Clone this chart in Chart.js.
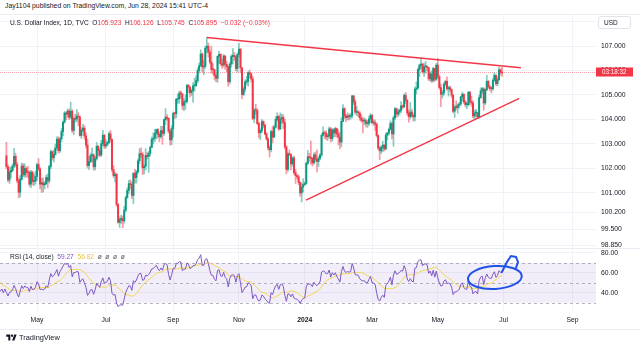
<!DOCTYPE html>
<html>
<head>
<meta charset="utf-8">
<script src="https://cdn.jsdelivr.net/npm/chart.js@4.4.0/dist/chart.umd.min.js"></script>
<style>
body { margin: 0; background: #fff; width: 640px; height: 347px; overflow: hidden; position: relative;
  font-family: 'Liberation Sans', Arial, sans-serif; color: #131722; }
canvas { position: absolute; left: 0; }
#price { top: 14px; }
#rsi { top: 249px; }
.txt { position: absolute; white-space: nowrap; line-height: 1; }
.r { color: #F23645; }
.hr { position: absolute; left: 0; width: 640px; height: 1px; background: #e9ecf2; }
#usd { left: 598px; top: 16px; width: 33px; height: 13px; border: 1px solid #e0e3eb; border-radius: 3px;
  background: #fff; font-size: 6.5px; box-sizing: border-box; padding: 3px 0 0 5px; }
</style>
</head>
<body>
<div class="hr" style="top:14px"></div>
<div class="hr" style="top:248px"></div>
<div class="hr" style="top:329px"></div>
<canvas id="price" width="640" height="235"></canvas>
<canvas id="rsi" width="640" height="81"></canvas>
<div class="txt" style="left:5px;top:3px;font-size:6.8px">Jay1104 published on TradingView.com, Jun 28, 2024 15:41 UTC-4</div>
<div class="txt" style="left:10px;top:20px;font-size:6.6px">U.S. Dollar Index, 1D, TVC&nbsp;&nbsp;O<span class="r">105.923</span>&nbsp;&nbsp;H<span class="r">106.126</span>&nbsp;&nbsp;L<span class="r">105.745</span>&nbsp;&nbsp;C<span class="r">105.895</span>&nbsp;&nbsp;<span class="r">&minus;0.032 (&minus;0.03%)</span></div>
<div class="txt" id="usd">USD</div>
<div class="txt" style="left:10px;top:254px;font-size:6.6px">RSI (14, close)&nbsp;&nbsp;<span style="color:#7E57C2">59.27</span>&nbsp;&nbsp;<span style="color:#e9c43a">56.82</span>&nbsp;&nbsp;<span style="color:#555">&oslash;&nbsp;&nbsp;&oslash;&nbsp;&nbsp;&oslash;&nbsp;&nbsp;&oslash;</span></div>
<div class="txt" style="left:6px;top:334px;font-size:7.4px;font-weight:bold">
  <svg width="11" height="7" viewBox="0 0 36 24" style="vertical-align:-1px"><path d="M14 22H7V9H0V2h14z" fill="#131722"/><circle cx="20" cy="6" r="4" fill="#131722"/><path d="M28 22h-8l7.5-20h8z" fill="#131722"/></svg>
  <span style="font-weight:normal">TradingView</span></div>
<script>
// DXY daily, Feb-Mar 2023 (only used to warm up the RSI, off screen)
var preCloses = [101.20, 101.75, 102.92, 103.62, 103.42, 103.39, 103.21, 103.63, 103.24, 103.25,
  103.82, 103.84, 103.87, 103.86, 104.18, 104.57, 104.61, 105.21, 104.67, 104.87,
  104.48, 104.98, 104.52, 104.31, 105.61, 105.66, 105.28, 104.58, 103.60, 103.60,
  104.65, 104.41, 103.86, 103.28, 103.25, 102.54, 102.54, 103.12, 102.86, 102.43,
  102.64, 102.14, 102.51];

var firstOpen = 102.51;

// weekdays Apr 3 2023 .. Jun 28 2024
var closes = [
  102.06, 101.52, 101.85, 101.91, 102.09, 102.49, 102.15, 101.49, 101.02, 101.55, 102.09, 101.73, 101.99, 101.83, 101.82, 101.35, 101.84, 101.46, 101.47, 101.66,
  102.15, 101.97, 101.35, 101.41, 101.32, 101.37, 101.62, 101.48, 102.07, 102.68, 102.43, 102.57, 102.83, 103.19, 102.72, 103.20, 103.50, 103.89, 104.26, 104.21, 104.34, 104.09, 104.33,
  103.55, 104.02, 104.01, 104.13, 104.10, 103.34, 103.55, 103.64, 103.32, 102.95, 102.11, 102.27, 102.52, 102.54, 102.06, 102.39, 102.90, 102.72, 102.54, 103.01, 103.35, 102.91,
  102.98, 103.06, 103.41, 103.18, 101.95, 101.70, 101.75, 100.52, 99.79, 99.91, 99.93, 99.85, 100.29, 100.80, 101.09, 101.37, 101.33, 100.89, 101.79, 101.62, 101.86,
  102.30, 102.59, 102.57, 102.02, 102.08, 102.53, 102.48, 102.61, 102.85, 103.19, 103.23, 103.43, 103.58, 103.39, 103.29, 103.54, 103.42, 103.99, 104.09, 104.04, 103.51, 103.16, 103.62,
  104.24, 104.23, 104.82, 104.84, 105.07, 105.05, 104.57, 104.71, 104.73, 105.39, 105.32, 105.09, 105.18, 105.37, 105.39, 105.58, 106.00, 106.20, 106.67, 106.14, 106.17,
  106.91, 106.99, 106.74, 106.34, 106.04, 106.03, 105.78, 105.68, 106.58, 106.66, 106.27, 106.22, 106.59, 106.25, 106.16, 105.54, 106.26, 106.57, 106.62, 106.56, 106.08, 106.66,
  106.87, 106.11, 105.02, 105.24, 105.53, 105.55, 105.91, 105.86, 105.65, 104.04, 104.37, 104.36, 103.83, 103.45, 103.53, 103.91, 103.76, 103.40, 103.20, 102.84, 102.76, 103.50,
  103.27, 103.68, 104.00, 104.12, 103.61, 104.01, 104.08, 103.87, 102.87, 101.95, 102.59, 102.56, 102.18, 102.42, 101.82, 101.70, 101.65, 101.42, 100.99, 101.23, 101.33,
  101.38, 102.20, 102.47, 102.43, 102.41, 102.22, 102.55, 102.37, 102.28, 102.40, 102.54, 103.35, 103.46, 103.43, 103.29, 103.32, 103.61, 103.21, 103.57, 103.44, 103.62, 103.40, 103.27,
  103.07, 103.92, 104.44, 104.13, 104.07, 104.14, 104.11, 104.15, 104.96, 104.71, 104.29, 104.29, 104.26, 104.06, 103.96, 103.93, 103.94, 103.83, 103.83, 104.01, 104.16,
  103.86, 103.86, 103.80, 103.34, 102.83, 102.71, 102.86, 102.95, 102.79, 103.36, 103.44, 103.59, 103.83, 103.40, 104.06, 104.43, 104.22, 104.30, 104.37, 104.55, 104.51,
  104.98, 104.79, 104.26, 104.11, 104.30, 104.15, 104.10, 105.23, 105.28, 106.04, 106.22, 106.26, 105.94, 106.15, 106.15, 106.12, 105.66, 105.86, 105.59, 106.08, 105.64, 106.22,
  105.74, 105.30, 105.03, 105.08, 105.44, 105.55, 105.25, 105.30, 105.22, 104.99, 104.33, 104.50, 104.48, 104.58, 104.63, 104.92, 105.03, 104.72, 104.60, 104.60, 105.11, 104.73, 104.67,
  104.14, 104.26, 104.27, 104.10, 104.89, 105.16, 105.25, 104.67, 105.21, 105.55, 105.33, 105.26, 105.25, 105.59, 105.80, 105.46, 105.62, 106.03, 105.93, 105.895
];

var highs = [
  103.06, 102.14, 102.03, 102.07, 102.18, 102.81, 102.62, 102.23, 101.60, 101.70, 102.21, 102.19, 102.18, 102.05, 102.08, 101.89, 101.91, 101.88, 101.77, 101.88,
  102.20, 102.40, 102.03, 101.58, 101.61, 101.46, 101.72, 101.77, 102.13, 102.75, 102.70, 102.75, 102.99, 103.28, 103.29, 103.26, 103.62, 103.93, 104.32, 104.31, 104.42, 104.42, 104.70,
  104.40, 104.08, 104.21, 104.40, 104.28, 104.12, 103.67, 103.80, 103.74, 103.45, 103.19, 102.48, 102.62, 102.82, 102.60, 102.49, 103.05, 102.93, 102.81, 103.14, 103.55, 103.39,
  103.17, 103.10, 103.48, 103.55, 103.19, 102.10, 101.83, 101.80, 100.55, 100.01, 100.08, 100.05, 100.44, 100.86, 101.20, 101.51, 101.53, 101.45, 101.83, 101.96, 101.91,
  102.38, 102.80, 102.84, 102.66, 102.15, 102.80, 102.64, 102.69, 102.91, 103.28, 103.45, 103.59, 103.60, 103.62, 103.48, 103.71, 103.72, 104.00, 104.44, 104.19, 104.07, 103.60, 103.74,
  104.30, 104.28, 104.85, 105.03, 105.16, 105.16, 105.02, 104.84, 105.00, 105.43, 105.43, 105.34, 105.24, 105.50, 105.68, 105.78, 106.10, 106.30, 106.84, 106.71, 106.42,
  107.00, 107.35, 107.12, 106.83, 106.99, 106.28, 106.05, 105.86, 106.60, 106.78, 106.69, 106.45, 106.66, 106.61, 106.37, 106.18, 106.33, 106.64, 106.89, 106.74, 106.60, 106.72,
  107.11, 106.90, 106.12, 105.33, 105.62, 105.76, 105.95, 106.02, 105.89, 105.76, 104.45, 104.62, 104.44, 103.88, 103.61, 103.99, 103.94, 103.80, 103.47, 103.25, 102.93, 103.56,
  103.72, 103.77, 104.11, 104.27, 104.16, 104.26, 104.21, 104.19, 104.00, 102.93, 102.64, 102.75, 102.59, 102.47, 102.50, 101.96, 101.73, 101.73, 101.44, 101.39, 101.57,
  101.44, 102.25, 102.73, 102.61, 103.11, 102.44, 102.63, 102.67, 102.75, 102.49, 102.60, 103.41, 103.69, 103.52, 103.54, 103.42, 103.69, 103.67, 103.62, 103.63, 103.68, 103.64, 103.58,
  103.47, 104.08, 104.60, 104.48, 104.21, 104.27, 104.22, 104.25, 104.97, 104.97, 104.80, 104.52, 104.36, 104.31, 104.19, 104.06, 104.06, 104.01, 103.96, 104.12, 104.24,
  104.21, 103.99, 103.97, 103.86, 103.37, 102.89, 102.92, 103.11, 102.96, 103.44, 103.47, 103.65, 103.94, 103.89, 104.13, 104.49, 104.46, 104.42, 104.43, 104.73, 104.59,
  105.04, 105.10, 104.80, 104.39, 104.69, 104.42, 104.23, 105.32, 105.53, 106.11, 106.26, 106.52, 106.30, 106.28, 106.37, 106.20, 106.13, 105.94, 105.98, 106.14, 106.09, 106.29,
  106.49, 105.82, 105.44, 105.18, 105.50, 105.60, 105.74, 105.36, 105.36, 105.25, 105.01, 104.58, 104.76, 104.63, 104.70, 104.95, 105.12, 105.04, 104.77, 104.70, 105.14, 105.14, 104.94,
  104.75, 104.38, 104.41, 104.29, 104.99, 105.29, 105.30, 105.30, 105.25, 105.80, 105.60, 105.38, 105.33, 105.67, 105.91, 105.83, 105.74, 106.13, 106.07, 106.126
];

var lows = [
  101.98, 101.45, 101.38, 101.60, 101.85, 102.02, 102.05, 101.41, 100.79, 100.83, 101.51, 101.66, 101.63, 101.64, 101.62, 101.26, 101.21, 101.31, 101.29, 101.35,
  101.50, 101.90, 101.15, 101.01, 101.03, 101.15, 101.33, 101.19, 101.40, 101.98, 102.33, 102.26, 102.53, 102.77, 102.62, 102.65, 103.07, 103.33, 103.84, 103.98, 104.08, 104.00, 104.02,
  103.46, 103.37, 103.89, 103.90, 103.74, 103.31, 103.22, 103.50, 103.19, 102.83, 102.01, 101.94, 102.22, 102.26, 101.92, 101.93, 102.33, 102.49, 102.47, 102.49, 102.92, 102.80,
  102.82, 102.90, 102.99, 103.06, 101.85, 101.62, 101.44, 100.44, 99.75, 99.58, 99.74, 99.57, 99.75, 100.22, 100.77, 100.97, 101.17, 100.76, 100.55, 101.39, 101.39,
  101.79, 102.18, 102.44, 101.74, 101.77, 101.93, 102.38, 101.83, 102.50, 102.84, 103.00, 103.09, 103.20, 103.24, 103.09, 103.23, 102.98, 103.34, 103.78, 103.96, 103.43, 102.94, 102.96,
  103.27, 104.03, 104.06, 104.65, 104.66, 104.86, 104.41, 104.36, 104.41, 104.66, 105.08, 104.92, 104.98, 104.69, 105.15, 105.35, 105.50, 105.90, 106.16, 105.94, 105.83,
  106.08, 106.74, 106.55, 106.27, 105.89, 105.85, 105.61, 105.54, 105.51, 106.29, 106.19, 106.08, 106.14, 106.05, 105.95, 105.35, 105.44, 106.13, 106.27, 106.41, 105.99, 105.93,
  106.54, 105.93, 104.84, 104.97, 105.13, 105.43, 105.36, 105.69, 105.52, 103.99, 103.86, 104.21, 103.79, 103.24, 103.17, 103.46, 103.64, 103.36, 103.14, 102.74, 102.46, 102.67,
  103.04, 103.27, 103.64, 103.94, 103.54, 103.58, 103.82, 103.62, 102.78, 101.77, 101.87, 102.51, 101.93, 102.09, 101.75, 101.38, 101.56, 101.33, 100.86, 100.62, 101.03,
  101.30, 101.34, 102.16, 102.27, 102.17, 102.09, 102.16, 102.26, 101.85, 102.07, 102.34, 102.48, 103.31, 103.21, 103.17, 103.13, 103.24, 103.07, 103.11, 103.27, 103.29, 103.27, 102.95,
  102.79, 102.88, 103.91, 104.02, 103.90, 103.99, 103.97, 104.01, 104.06, 104.61, 104.21, 104.15, 104.10, 103.96, 103.88, 103.44, 103.78, 103.69, 103.67, 103.74, 103.87,
  103.81, 103.75, 103.55, 103.28, 102.76, 102.35, 102.60, 102.68, 102.71, 102.76, 103.16, 103.35, 103.56, 103.20, 102.90, 104.00, 104.09, 104.12, 104.18, 104.28, 104.44,
  104.48, 104.65, 104.17, 103.88, 104.02, 104.08, 103.92, 103.94, 105.04, 105.23, 105.75, 106.09, 105.89, 105.76, 105.88, 105.98, 105.59, 105.56, 105.50, 105.53, 105.55, 105.59,
  105.67, 105.23, 104.52, 104.87, 104.98, 105.36, 105.18, 104.95, 105.13, 104.88, 104.26, 104.08, 104.39, 104.25, 104.45, 104.55, 104.73, 104.64, 104.51, 104.44, 104.55, 104.61, 104.53,
  104.06, 103.99, 104.09, 104.03, 104.04, 104.86, 105.05, 104.37, 104.60, 105.17, 105.27, 105.17, 105.08, 105.18, 105.55, 105.38, 105.38, 105.58, 105.82, 105.745
];

// bar index of the first trading day of each labelled month (Apr 3 2023 = 0)
var monthTicks = [20, 65, 109, 152, 195, 239, 282, 325, 370];
var monthLabels = ['May', 'Jul', 'Sep', 'Nov', '2024', 'Mar', 'May', 'Jul', 'Sep'];
var priceTicks = [108, 107, 106, 105, 104, 103, 102, 101, 100.2, 99.5, 98.85];
var rsiTicks = [80, 60, 40];

// hand drawn lines, [bar index, value]
var upperTrend = [[131, 107.35], [336.3, 106.11]];
var lowerTrend = [[195.8, 100.70], [335.2, 104.86]];
var circleNote = { x: 319.3, y: 55.2, rx: 17.6, ry: 11.5 };
var hookNote = [[323.9, 60.7], [327.2, 70.7], [329.8, 76.7], [333.1, 75.7], [334.4, 70.7], [333.1, 64.7]];

var upColor = '#089981';
var downColor = '#F23645';
var gridColor = '#f0f2f7';

Chart.defaults.font.family = "'Liberation Sans', Arial, sans-serif";
Chart.defaults.font.size = 6.8;
Chart.defaults.color = '#131722';

var opens = closes.map(function (c, i) { return i === 0 ? firstOpen : closes[i - 1]; });
var up = closes.map(function (c, i) { return c >= opens[i]; });

var xMin = -4.2, xMax = 385.4;

function noPad(s) {
    s.paddingTop = 0; s.paddingBottom = 0; s.paddingLeft = 0; s.paddingRight = 0;
}

function monthScale(showLabels) {
    return {
        type: 'linear', min: xMin, max: xMax, offset: false,
        grid: { color: gridColor, drawTicks: false, offset: false },
        border: { display: false },
        afterBuildTicks: function (s) { s.ticks = monthTicks.map(function (v) { return { value: v }; }); },
        afterFit: function (s) { s.height = showLabels ? 19 : 0; noPad(s); },
        ticks: {
            display: showLabels, autoSkip: false, maxRotation: 0, padding: 5,
            font: function (ctx) { return (ctx.tick && ctx.tick.value === 195) ? { weight: 'bold' } : {}; },
            callback: function (v) { var k = monthTicks.indexOf(v); return k < 0 ? '' : monthLabels[k]; }
        }
    };
}

function sideScale(lo, hi, list, digits) {
    return {
        position: 'right', min: lo, max: hi,
        grid: { color: gridColor, drawTicks: false },
        border: { display: false },
        afterBuildTicks: function (s) { s.ticks = list.map(function (v) { return { value: v }; }); },
        afterFit: function (s) { s.width = 44; noPad(s); },
        ticks: { padding: 5, callback: function (v) { return v.toFixed(digits); } }
    };
}

var priceLine = {
    id: 'priceLine',
    beforeDatasetsDraw: function (chart) {
        var c = chart.ctx, a = chart.chartArea;
        var y = chart.scales.y.getPixelForValue(closes[closes.length - 1]);
        c.save();
        c.strokeStyle = 'rgba(242,54,69,0.45)';
        c.lineWidth = 1;
        c.setLineDash([1, 1]);
        c.beginPath(); c.moveTo(a.left, Math.round(y) - 0.5); c.lineTo(a.right, Math.round(y) - 0.5); c.stroke();
        c.restore();
    },
    afterDraw: function (chart) {
        var c = chart.ctx, a = chart.chartArea;
        var y = Math.round(chart.scales.y.getPixelForValue(closes[closes.length - 1])) - 1;
        c.save();
        c.fillStyle = '#F23645';
        c.fillRect(a.right, y - 4.5, 37, 9);
        c.fillStyle = '#fff';
        c.font = "6.3px 'Liberation Sans', Arial, sans-serif";
        c.textBaseline = 'middle';
        c.fillText('03:18:32', a.right + 6, y);
        c.restore();
    }
};

function trend(pts) {
    return {
        type: 'line', data: pts.map(function (p) { return { x: p[0], y: p[1] }; }),
        borderColor: '#F23645', borderWidth: 1.4, pointRadius: 0, order: 0
    };
}

new Chart(document.getElementById('price'), {
    type: 'bar',
    data: {
        datasets: [{
            data: closes.map(function (c, i) { return { x: i, y: [lows[i], highs[i]] }; }),
            backgroundColor: up.map(function (u) { return u ? 'rgba(8,153,129,0.5)' : 'rgba(242,54,69,0.5)'; }),
            barThickness: 1, grouped: false, order: 2
        }, {
            data: closes.map(function (c, i) { return { x: i, y: [opens[i], c] }; }),
            backgroundColor: up.map(function (u) { return u ? upColor : downColor; }),
            barThickness: 1.3, minBarLength: 1, grouped: false, order: 1
        }, trend(upperTrend), trend(lowerTrend)]
    },
    options: {
        responsive: false, animation: false, devicePixelRatio: 1,
        layout: { padding: 0 },
        plugins: { legend: { display: false }, tooltip: { enabled: false } },
        scales: {
            x: monthScale(false),
            y: sideScale(98.697, 108.309, priceTicks, 3)
        }
    },
    plugins: [priceLine]
});

// RSI (14) with its 14 bar moving average
function rsiOf(src, len) {
    var out = [null], ag = 0, al = 0;
    for (var i = 1; i < src.length; i++) {
        var ch = src[i] - src[i - 1];
        var g = ch > 0 ? ch : 0, l = ch < 0 ? -ch : 0;
        if (i <= len) { ag += g / len; al += l / len; }
        else { ag = (ag * (len - 1) + g) / len; al = (al * (len - 1) + l) / len; }
        out.push(i < len ? null : (al === 0 ? 100 : 100 - 100 / (1 + ag / al)));
    }
    return out;
}
function smaOf(src, len) {
    return src.map(function (v, i) {
        if (i < len - 1) return null;
        var s = 0;
        for (var k = i - len + 1; k <= i; k++) { if (src[k] === null) return null; s += src[k]; }
        return s / len;
    });
}
var allCloses = preCloses.concat(closes);
var rsiVals = rsiOf(allCloses, 14);
var rsiMa = smaOf(rsiVals, 14);
function toPts(arr) {
    var pts = [];
    arr.forEach(function (v, j) { if (v !== null) pts.push({ x: j - preCloses.length, y: v }); });
    return pts;
}

var rsiBand = {
    id: 'rsiBand',
    beforeDatasetsDraw: function (chart) {
        var c = chart.ctx, a = chart.chartArea, ys = chart.scales.y;
        var y70 = ys.getPixelForValue(70), y30 = ys.getPixelForValue(30), y50 = ys.getPixelForValue(50);
        c.save();
        c.fillStyle = 'rgba(126,87,194,0.1)';
        c.fillRect(a.left, y70, a.right - a.left, y30 - y70);
        c.strokeStyle = 'rgba(120,123,134,0.55)';
        c.lineWidth = 1;
        c.setLineDash([3, 3]);
        [y70, y50, y30].forEach(function (y) {
            c.beginPath(); c.moveTo(a.left, Math.round(y) + 0.5); c.lineTo(a.right, Math.round(y) + 0.5); c.stroke();
        });
        c.restore();
    },
    afterDatasetsDraw: function (chart) {
        var c = chart.ctx, xs = chart.scales.x, ys = chart.scales.y;
        var cx = xs.getPixelForValue(circleNote.x), cy = ys.getPixelForValue(circleNote.y);
        var rx = xs.getPixelForValue(circleNote.x + circleNote.rx) - cx;
        var ry = cy - ys.getPixelForValue(circleNote.y + circleNote.ry);
        c.save();
        c.strokeStyle = '#1f52e6';
        c.lineWidth = 2;
        c.lineCap = 'round';
        c.beginPath(); c.ellipse(cx, cy, rx, ry, -0.06, 0, Math.PI * 2); c.stroke();
        c.beginPath();
        hookNote.forEach(function (p, k) {
            var px = xs.getPixelForValue(p[0]), py = ys.getPixelForValue(p[1]);
            if (k === 0) c.moveTo(px, py); else c.lineTo(px, py);
        });
        c.stroke();
        c.restore();
    }
};

new Chart(document.getElementById('rsi'), {
    type: 'line',
    data: {
        datasets: [{
            data: toPts(rsiMa), borderColor: '#f2d64b', borderWidth: 1, pointRadius: 0, order: 2
        }, {
            data: toPts(rsiVals), borderColor: '#7E57C2', borderWidth: 1, pointRadius: 0, order: 1
        }]
    },
    options: {
        responsive: false, animation: false, devicePixelRatio: 1,
        layout: { padding: 0 },
        plugins: { legend: { display: false }, tooltip: { enabled: false } },
        scales: {
            x: monthScale(true),
            y: sideScale(21.7, 83.7, rsiTicks, 2)
        }
    },
    plugins: [rsiBand]
});
</script>
</body>
</html>
